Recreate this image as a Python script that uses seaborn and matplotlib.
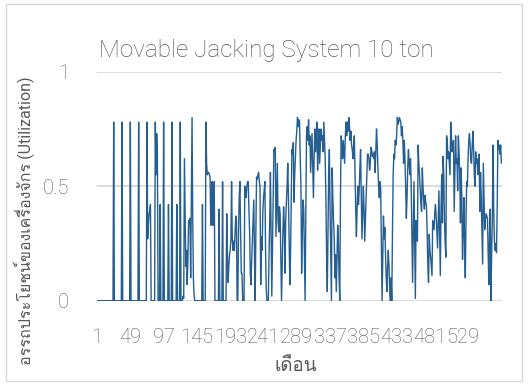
import numpy as np
import pandas as pd
import matplotlib
matplotlib.use("Agg")
import matplotlib.pyplot as plt
import seaborn as sns
from matplotlib import font_manager
from matplotlib.patches import Rectangle

# ---------------- data (utilization per month) ----------------
util_001_072 = [
    0, 0, 0, 0, 0, 0, 0, 0, 0, 0, 0, 0,
    0, 0, 0, 0, 0, 0, 0, 0, 0, 0, 0, 0,
    0.78, 0, 0, 0, 0, 0, 0, 0, 0, 0, 0, 0,
    0.78, 0, 0, 0, 0, 0, 0, 0, 0, 0, 0, 0,
    0.78, 0, 0, 0, 0, 0, 0, 0, 0, 0, 0, 0,
    0.78, 0, 0, 0, 0, 0, 0, 0, 0, 0, 0, 0,
]
util_073_144 = [
    0.78, 0.27, 0.33, 0.38, 0.39, 0.42, 0, 0, 0, 0, 0, 0,
    0.78, 0.55, 0.73, 0.64, 0, 0, 0, 0.42, 0, 0, 0, 0,
    0.78, 0, 0, 0, 0, 0, 0, 0.42, 0, 0, 0, 0,
    0.78, 0, 0, 0, 0, 0, 0, 0.42, 0, 0, 0, 0,
    0.78, 0, 0, 0, 0.02, 0.01, 0.62, 0.40, 0.15, 0.22, 0.07, 0.18,
    0.35, 0.34, 0.36, 0.10, 0.46, 0.80, 0.35, 0.09, 0.02, 0, 0, 0,
]
util_145_216 = [
    0, 0, 0, 0, 0, 0, 0, 0, 0.42, 0, 0, 0,
    0, 0.78, 0.60, 0.55, 0.56, 0.56, 0.55, 0.54, 0.33, 0.33, 0.52, 0.33,
    0.33, 0.52, 0, 0, 0, 0, 0, 0, 0.40, 0, 0, 0,
    0, 0.52, 0, 0, 0, 0, 0, 0.38, 0.20, 0.08, 0.15, 0.20,
    0.22, 0.27, 0.52, 0.27, 0.22, 0.26, 0.22, 0.30, 0.37, 0.35, 0, 0,
    0.30, 0.45, 0.52, 0.30, 0.12, 0.12, 0, 0, 0, 0.50, 0.48, 0.45,
]
util_217_288 = [
    0.50, 0.52, 0.52, 0.40, 0.30, 0.12, 0.07, 0.18, 0.27, 0.35, 0.44, 0.20,
    0, 0.30, 0.54, 0.53, 0.55, 0.56, 0.52, 0.50, 0.07, 0.28, 0.22, 0.38,
    0.45, 0.48, 0.52, 0.22, 0.05, 0, 0, 0, 0.20, 0.35, 0.56, 0.30,
    0.02, 0.25, 0.45, 0.66, 0.65, 0.67, 0.28, 0.45, 0.60, 0.35, 0.30, 0.41,
    0.38, 0.20, 0, 0.15, 0.30, 0.41, 0.33, 0.12, 0.35, 0.42, 0.50, 0.60,
    0.45, 0.25, 0.07, 0.20, 0.45, 0.66, 0.64, 0.69, 0.43, 0.55, 0.62, 0.70,
]
util_289_360 = [
    0.74, 0.80, 0.76, 0.79, 0.78, 0.62, 0.50, 0.12, 0.30, 0.44, 0.40, 0.20,
    0, 0.35, 0.72, 0.76, 0.70, 0.79, 0.68, 0.72, 0.56, 0.65, 0.73, 0.60,
    0.45, 0.62, 0.75, 0.65, 0.70, 0.78, 0.57, 0.68, 0.75, 0.60, 0.68, 0.75,
    0.70, 0.72, 0.65, 0.78, 0.70, 0.62, 0.45, 0.20, 0.04, 0.30, 0.55, 0.66,
    0.40, 0.20, 0, 0.58, 0.45, 0.35, 0.28, 0.10, 0.20, 0.04, 0.18, 0.33,
    0.25, 0.10, 0, 0.45, 0.72, 0.68, 0.62, 0.70, 0.65, 0.60, 0.72, 0.78,
]
util_361_432 = [
    0.72, 0.78, 0.74, 0.80, 0.76, 0.70, 0.74, 0.68, 0.66, 0.62, 0.68, 0.72,
    0.55, 0.40, 0.28, 0.40, 0.50, 0.42, 0.48, 0.58, 0.66, 0.45, 0.27, 0.38,
    0.50, 0.40, 0.26, 0.35, 0.45, 0.55, 0.64, 0.64, 0.62, 0.57, 0.60, 0.67,
    0.66, 0.63, 0.64, 0.62, 0.65, 0.56, 0.65, 0.75, 0.68, 0.58, 0.50, 0.45,
    0.52, 0.49, 0.25, 0, 0.20, 0.37, 0.27, 0.32, 0.20, 0.10, 0.04, 0.15,
    0.22, 0.15, 0.05, 0, 0.10, 0, 0.30, 0.55, 0.64, 0.62, 0.70, 0.68,
]
util_433_504 = [
    0.72, 0.80, 0.77, 0.78, 0.80, 0.79, 0.78, 0.72, 0.76, 0.70, 0.60, 0.70,
    0.62, 0.50, 0.36, 0.45, 0.58, 0.66, 0.60, 0.55, 0.62, 0.50, 0.30, 0.08,
    0.30, 0.52, 0.25, 0.01, 0.35, 0.30, 0.26, 0.68, 0.60, 0.55, 0.48, 0.42,
    0.39, 0.58, 0.50, 0.44, 0.40, 0.46, 0.43, 0.41, 0.30, 0.15, 0.08, 0.29,
    0.22, 0.19, 0.15, 0.11, 0.35, 0.33, 0.31, 0.39, 0.42, 0.37, 0.30, 0.23,
    0.35, 0.48, 0.30, 0.11, 0.40, 0.55, 0.34, 0.63, 0.55, 0.35, 0.25, 0.19,
]
util_505_584 = [
    0.72, 0.70, 0.62, 0.65, 0.60, 0.55, 0.78, 0.72, 0.65, 0.67, 0.70, 0.39,
    0.55, 0.72, 0.60, 0.62, 0.48, 0.72, 0.65, 0.55, 0.34, 0.58, 0.45, 0.18,
    0.30, 0.45, 0.25, 0.10, 0.35, 0.52, 0.50, 0.62, 0.70, 0.73, 0.68, 0.61,
    0.60, 0.68, 0.74, 0.66, 0.55, 0.50, 0.65, 0.60, 0.62, 0.55, 0.60, 0.64,
    0.39, 0.56, 0.45, 0.30, 0.16, 0.60, 0.45, 0.31, 0.35, 0.38, 0.37, 0.36,
    0.20, 0.07, 0.30, 0.40, 0, 0.20, 0.35, 0.68, 0.40, 0.26, 0.22, 0.25,
    0.21, 0.40, 0.70, 0.66, 0.68, 0.64, 0.68, 0.60,
]

x_tick_labels = ["1", "49", "97", "145", "193", "241", "289", "337", "385", "433", "481", "529"]
y_tick_labels = ["0", "0.5", "1"]
title_text = "Movable Jacking System 10 ton"
x_label = "เดือน"
y_label = "อรรถประโยชน์ของเครื่องจักร (Utilization)"

utilization = (util_001_072 + util_073_144 + util_145_216 + util_217_288
               + util_289_360 + util_361_432 + util_433_504 + util_505_584)
months = np.arange(1, len(utilization) + 1)
df = pd.DataFrame({"month": months, "utilization": utilization})


# ---------------- fonts ----------------
def find_thai_family():
    try:
        from fontTools.ttLib import TTFont
    except Exception:
        return None
    seen = set()
    for entry in font_manager.fontManager.ttflist:
        if entry.fname in seen:
            continue
        seen.add(entry.fname)
        try:
            tt = TTFont(entry.fname, fontNumber=0, lazy=True)
            cmap = tt.getBestCmap() or {}
            if 0x0E40 in cmap and 0x0E2D in cmap and 0x0E19 in cmap:
                return entry.name
        except Exception:
            continue
    return None


sns.set_theme(style="white")
thai = find_thai_family()
families = ["Roboto"] + ([thai] if thai else []) + ["DejaVu Sans"]
plt.rcParams["font.family"] = families

text_grey = "#595959"
grid_grey = "#d9d9d9"
line_blue = "#255E91"

W, H = 528, 385
fig = plt.figure(figsize=(W / 100, H / 100), dpi=100)
fig.patch.set_facecolor("white")

# chart-area border
fig.patches.append(Rectangle((6 / W, 4 / H), (522 - 6) / W, (381 - 4) / H,
                             transform=fig.transFigure, fill=False,
                             edgecolor=grid_grey, linewidth=1.0))

left, right, top, bottom = 96.7, 501.7, 71.7, 300.7
ax = fig.add_axes([left / W, 1 - bottom / H, (right - left) / W, (bottom - top) / H])

sns.lineplot(data=df, x="month", y="utilization", ax=ax, color=line_blue,
             linewidth=1.0, estimator=None, legend=False)

ax.set_xlim(0.5, len(utilization) + 0.5)
ax.set_ylim(0, 1)
ax.set_yticks([0, 0.5, 1])
ax.set_yticklabels(y_tick_labels)
ax.set_xticks([int(v) for v in x_tick_labels])
ax.set_xticklabels(x_tick_labels)
ax.set_xlabel("")
ax.set_ylabel("")
for s in ax.spines.values():
    s.set_visible(False)
ax.grid(False)
for yv in [0, 0.5, 1]:
    ax.axhline(yv, color=grid_grey, linewidth=1.3, zorder=0)
ax.tick_params(axis="x", length=0, pad=20, labelsize=14.5, labelcolor=text_grey)
ax.tick_params(axis="y", length=0, pad=20, labelsize=14.5, labelcolor=text_grey)
for lab in ax.get_xticklabels() + ax.get_yticklabels():
    lab.set_fontweight("light")
ax.set_facecolor("white")

fig.text(266.7 / W, 1 - 50 / H, title_text, ha="center", va="center",
         fontsize=17.5, color=text_grey, fontweight="light")
fig.text(296 / W, 1 - 366 / H, x_label, ha="center", va="center",
         fontsize=13.5, color=text_grey)
fig.text(24 / W, 1 - 221 / H, y_label, ha="center", va="center", rotation=90,
         fontsize=11.5, color=text_grey)

fig.savefig("out.png", dpi=100, facecolor="white")
